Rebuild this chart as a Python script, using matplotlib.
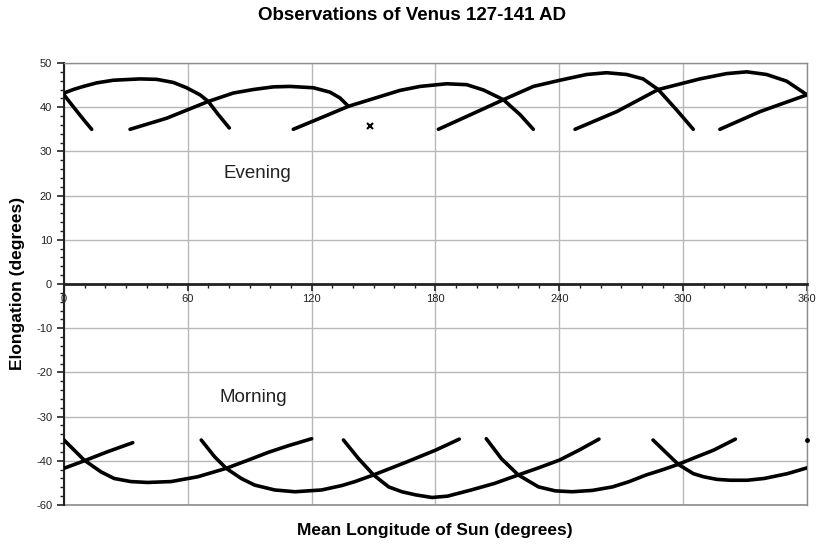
import matplotlib
matplotlib.use('Agg')
import matplotlib.pyplot as plt
from matplotlib.ticker import FixedLocator, MultipleLocator

plt.rcParams['font.family'] = ['Liberation Sans', 'DejaVu Sans']

# ---------------- data ----------------
# Evening elongations (degrees) vs mean longitude of the Sun (degrees)
eve0_x = [0, 3.5, 6.9, 10.0, 13.4]
eve0_y = [42.8, 40.7, 38.7, 36.9, 35.0]
eve1_x = [0, 4.5, 9.4, 15.8, 23.9, 36.8, 44.9, 53.0, 59.4, 65.9, 69.9, 74.8, 80.1]
eve1_y = [43.2, 44.0, 44.7, 45.5, 46.1, 46.4, 46.3, 45.6, 44.4, 42.8, 41.3, 38.3, 35.3]
eve2_x = [32.0, 49.7, 69.9, 82.0, 91.7, 101.4, 109.5, 120.8, 128.9, 133.7, 137.8]
eve2_y = [35.0, 37.5, 41.3, 43.2, 44.0, 44.6, 44.7, 44.4, 43.4, 42.1, 40.2]
eve3_x = [111.1, 124.0, 137.8, 162.8, 172.5, 185.4, 195.1, 203.2, 212.9, 221.0, 227.4]
eve3_y = [35.0, 37.5, 40.2, 43.8, 44.7, 45.3, 45.1, 43.9, 41.7, 38.3, 35.0]
eve4_x = [181.4, 195.1, 212.9, 227.4, 240.3, 253.2, 262.9, 272.6, 280.6, 287.9, 296.8, 304.9]
eve4_y = [35.0, 37.9, 41.7, 44.7, 46.1, 47.4, 47.8, 47.4, 46.4, 44.0, 39.4, 35.0]
eve5_x = [247.6, 267.8, 287.9, 308.1, 321.0, 330.8, 340.4, 350.1, 360.0]
eve5_y = [35.0, 39.0, 44.0, 46.4, 47.6, 48.0, 47.4, 45.9, 42.8]
eve6_x = [317.8, 337.2, 360.0]
eve6_y = [35.0, 39.0, 42.8]
eve_odd_x = [148.3]
eve_odd_y = [35.8]

# Morning elongations
mor0_x = [0, 9.8, 20.8, 33.3]
mor0_y = [-41.7, -40.0, -38.0, -35.9]
mor1_x = [0, 9.8, 17.9, 24.3, 32.4, 40.5, 51.9, 64.9, 78.6, 89.2, 98.9, 108.6, 120.0]
mor1_y = [-35.3, -39.85, -42.5, -44.0, -44.7, -44.9, -44.7, -43.6, -41.7, -39.85, -38.1, -36.6, -35.0]
mor2_x = [66.5, 73.0, 78.6, 85.9, 92.4, 102.1, 111.9, 124.8, 134.6, 141.0, 150.0, 165.3, 180.0, 191.5]
mor2_y = [-35.3, -39.1, -41.7, -44.0, -45.5, -46.6, -47.0, -46.6, -45.6, -44.7, -43.2, -40.4, -37.6, -35.1]
mor3_x = [135.4, 142.7, 150.0, 157.3, 163.7, 170.3, 178.3, 185.8, 197.3, 208.7, 220.1, 229.9, 240.0, 249.5, 259.2]
mor3_y = [-35.3, -39.5, -43.2, -45.9, -47.0, -47.7, -48.3, -48.0, -46.6, -45.1, -43.2, -41.6, -39.85, -37.6, -35.1]
mor4_x = [204.6, 211.9, 220.1, 229.9, 238.0, 246.2, 256.0, 265.8, 273.9, 282.1, 290.2, 297.6, 306.6, 314.7, 325.3]
mor4_y = [-35.0, -39.5, -43.2, -45.9, -46.8, -47.0, -46.7, -45.9, -44.7, -43.2, -42.0, -40.8, -39.1, -37.6, -35.1]
mor5_x = [285.4, 297.6, 304.9, 309.8, 316.3, 322.9, 331.0, 339.2, 350.6, 360.0]
mor5_y = [-35.3, -40.8, -42.9, -43.6, -44.2, -44.4, -44.4, -44.0, -42.9, -41.6]
mor_dot_x = [360.0]
mor_dot_y = [-35.3]

x_ticks = [0, 60, 120, 180, 240, 300, 360]
y_ticks = [-50, -40, -30, -20, -10, 0, 10, 20, 30, 40, 50]
y_tick_labels = ['-60', '-40', '-30', '-20', '-10', '0', '10', '20', '30', '40', '50']

title = 'Observations of Venus 127-141 AD'
x_title = 'Mean Longitude of Sun (degrees)'
y_title = 'Elongation (degrees)'

# ---------------- drawing ----------------
fig = plt.figure(figsize=(8.2, 5.48), dpi=100)
ax = fig.add_axes([64/820, 1-505/548, (807-64)/820, (505-63)/548])

evening = [(eve0_x, eve0_y), (eve1_x, eve1_y), (eve2_x, eve2_y), (eve3_x, eve3_y),
           (eve4_x, eve4_y), (eve5_x, eve5_y), (eve6_x, eve6_y)]
morning = [(mor0_x, mor0_y), (mor1_x, mor1_y), (mor2_x, mor2_y), (mor3_x, mor3_y),
           (mor4_x, mor4_y), (mor5_x, mor5_y)]
for xs, ys in evening + morning:
    ax.plot(xs, ys, color='black', lw=2.6, solid_capstyle='round',
            solid_joinstyle='round', zorder=3)
ax.plot(eve_odd_x, eve_odd_y, 'x', color='black', ms=5, mew=1.5, zorder=3)
ax.plot(mor_dot_x, mor_dot_y, 'o', color='black', ms=2.5, zorder=3, clip_on=False)

ax.set_xlim(0, 360)
ax.set_ylim(-50, 50)

ax.xaxis.set_major_locator(FixedLocator(x_ticks))
ax.xaxis.set_minor_locator(MultipleLocator(10))
ax.yaxis.set_major_locator(FixedLocator(y_ticks))
ax.set_yticklabels(y_tick_labels)
ax.yaxis.set_minor_locator(MultipleLocator(2))

ax.grid(True, which='major', color='#b8b8b8', lw=1)
ax.set_axisbelow(True)

ax.spines['bottom'].set_position(('data', 0))
ax.spines['bottom'].set_linewidth(2)
ax.spines['bottom'].set_color('#222222')
ax.spines['left'].set_linewidth(1.5)
ax.spines['left'].set_color('#222222')
for s in ('top', 'right'):
    ax.spines[s].set_color('#8c8c8c')
    ax.spines[s].set_linewidth(1)
ax.axhline(-50, color='#8c8c8c', lw=1.2, clip_on=False, zorder=2)

ax.tick_params(which='major', direction='out', length=5, width=1.2, colors='#222222',
               labelsize=8, labelcolor='#222222')
ax.tick_params(which='minor', direction='out', length=3, width=1, colors='#222222')
ax.tick_params(axis='x', which='major', pad=2)

ax.text(93.5, 25.0, 'Evening', fontsize=13.5, ha='center', va='center', color='#222222')
ax.text(91.6, -25.7, 'Morning', fontsize=13.5, ha='center', va='center', color='#222222')

fig.text(412/820, 1-15/548, title, fontsize=13.5, fontweight='bold', ha='center', va='center')
fig.text(435/820, 1-531/548, x_title, fontsize=12.5, fontweight='bold', ha='center', va='center')
fig.text(18/820, 1-283/548, y_title, fontsize=12.5, fontweight='bold', ha='center', va='center',
         rotation=90)

fig.savefig('out.png', dpi=100)
